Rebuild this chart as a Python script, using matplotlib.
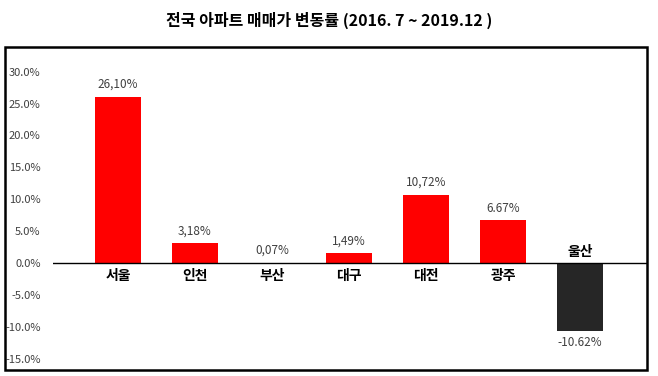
# -*- coding: utf-8 -*-
"""Bar chart of apartment price change by region."""
import matplotlib
matplotlib.use('Agg')
# pylint: disable=wrong-import-position
import matplotlib.pyplot
import matplotlib.patches

regions = ['서울', '인천', '부산', '대구', '대전', '광주', '울산']
changes = [26.10, 3.18, 0.07, 1.49, 10.72, 6.67, -10.62]
value_labels = ['26,10%', '3,18%', '0,07%', '1,49%', '10,72%', '6.67%', '-10.62%']
y_ticks = [-15, -10, -5, 0, 5, 10, 15, 20, 25, 30]


def main():
    """main."""
    matplotlib.pyplot.rcParams['font.family'] = ['Noto Sans CJK KR', 'DejaVu Sans']
    fig = matplotlib.pyplot.figure(figsize=(6.58, 3.76), dpi=100)
    W, H = 658., 376.

    # outer border box
    border = matplotlib.patches.Rectangle(
        (5/W, 1 - 370/H), 642/W, 323/H, transform=fig.transFigure,
        facecolor='none', edgecolor='black', linewidth=1.8)
    fig.patches.append(border)

    fig.text(0.5, 1 - 20/H, '전국 아파트 매매가 변동률 (2016. 7 ~ 2019.12 )',
             ha='center', va='center', fontsize=11.5, fontweight='bold')

    ax = fig.add_axes([53/W, 1 - 365/H, 595/W, 305/H])
    px_per_pct = 287 / 45.
    ax.set_ylim(-(365 - 263) / px_per_pct, (263 - 60) / px_per_pct)
    ax.set_xlim((53 - 118) / 77., (648 - 118) / 77.)

    colors = ['#ff0000' if v >= 0 else '#262626' for v in changes]
    xs = list(range(len(regions)))
    ax.bar(xs, changes, width=0.6, color=colors, zorder=2)
    ax.axhline(0, color='black', linewidth=1.0, zorder=3)

    for x, v, lab, name in zip(xs, changes, value_labels, regions):
        if v >= 0:
            ax.annotate(lab, (x, v), xytext=(0, 4), textcoords='offset points',
                        ha='center', va='bottom', fontsize=8.5, color='#404040')
            ax.annotate(name, (x, 0), xytext=(0, -4), textcoords='offset points',
                        ha='center', va='top', fontsize=10, fontweight='bold')
        else:
            ax.annotate(lab, (x, v), xytext=(0, -4), textcoords='offset points',
                        ha='center', va='top', fontsize=8.5, color='#404040')
            ax.annotate(name, (x, 0), xytext=(0, 3), textcoords='offset points',
                        ha='center', va='bottom', fontsize=10, fontweight='bold')

    ax.set_yticks(y_ticks)
    ax.set_yticklabels(['%.1f%%' % t for t in y_ticks], fontsize=8,
                       color='#404040')
    ax.tick_params(axis='y', length=0, pad=9)
    ax.set_xticks([])
    for s in ax.spines.values():
        s.set_visible(False)
    ax.patch.set_alpha(0)

    fig.savefig('out.png', dpi=100)


if __name__ == '__main__':
    main()

# EOF
